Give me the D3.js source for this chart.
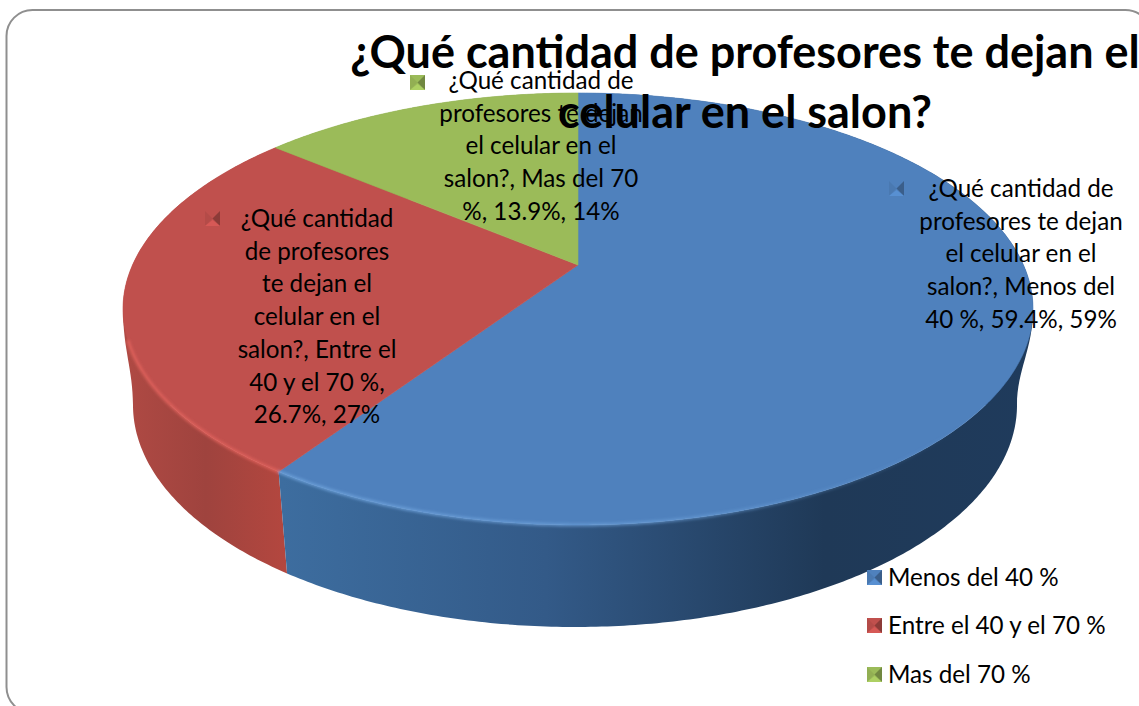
<!DOCTYPE html>
<html><head><meta charset="utf-8">
<script src="https://cdn.jsdelivr.net/npm/d3@7/dist/d3.min.js"></script>
<style>html,body{margin:0;padding:0;background:#fff;overflow:hidden}svg{display:block}text{font-family:Lato,"Open Sans",sans-serif;fill:#000}</style>
</head><body><svg id="c" width="1139" height="706"></svg>
<script>
const categories = ["Menos del 40 %", "Entre el 40 y el 70 %", "Mas del 70 %"];
const values = [59.4, 26.7, 13.9];
const colors = ["#4f81bd", "#c0504d", "#9bbb59"];
const rimColors = ["#6fa3dc", "#e2635d", "#b5d56f"];
const titleLines = ["¿Qué cantidad de profesores te dejan el", "celular en el salon?"];
const labelLines = [
  ["¿Qué cantidad de", "profesores te dejan", "el celular en el", "salon?, Menos del", "40 %, 59.4%, 59%"],
  ["¿Qué cantidad", "de profesores", "te dejan el", "celular en el", "salon?, Entre el", "40 y el 70 %,", "26.7%, 27%"],
  ["¿Qué cantidad de", "profesores te dejan", "el celular en el", "salon?, Mas del 70", "%, 13.9%, 14%"]
];

const svg = d3.select("#c");
const defs = svg.append("defs");

const top_ = {ax: 578, ay: 265, cx: 578, cy: 309, rx: 455, ry: 216};
const low_ = {ax: 586, ay: 367, cx: 575, cy: 405, rx: 442, ry: 222};
const aspect = 2.16;

function rim(e, a) {
  const dx = aspect * Math.sin(a), dy = -Math.cos(a);
  const ox = e.ax - e.cx, oy = e.ay - e.cy;
  const A = dx*dx/(e.rx*e.rx) + dy*dy/(e.ry*e.ry);
  const B = 2*(ox*dx/(e.rx*e.rx) + oy*dy/(e.ry*e.ry));
  const C = ox*ox/(e.rx*e.rx) + oy*oy/(e.ry*e.ry) - 1;
  const t = (-B + Math.sqrt(B*B - 4*A*C)) / (2*A);
  return [e.ax + t*dx, e.ay + t*dy];
}
function arcPts(e, a0, a1) {
  const n = Math.max(2, Math.ceil((a1 - a0) / 0.01));
  return d3.range(n + 1).map(i => rim(e, a0 + (a1 - a0) * i / n));
}
const line = d3.line();
const arcs = d3.pie().sort(null).value(d => d)(values);

const sideStops = [
  [[0, "#3d6d9f"], [0.35, "#335a88"], [0.72, "#1f3957"], [1, "#1f3b5c"]],
  [[0, "#b04a44"], [0.5, "#9f433e"], [1, "#b5473f"]],
  [[0, "#7d9a45"], [1, "#6f8a3c"]]
];
const xRange = [[282, 1035], [120, 292], [270, 580]];
sideStops.forEach((st, i) => {
  const g = defs.append("linearGradient").attr("id", "side" + i)
    .attr("gradientUnits", "userSpaceOnUse")
    .attr("x1", xRange[i][0]).attr("x2", xRange[i][1]).attr("y1", 0).attr("y2", 0);
  st.forEach(s => g.append("stop").attr("offset", s[0]).attr("stop-color", s[1]));
});
const fade = defs.append("linearGradient").attr("id", "rimFade")
  .attr("gradientUnits", "userSpaceOnUse").attr("x1", 282).attr("x2", 960).attr("y1", 0).attr("y2", 0);
fade.append("stop").attr("offset", 0).attr("stop-color", rimColors[0]);
fade.append("stop").attr("offset", 0.55).attr("stop-color", rimColors[0]).attr("stop-opacity", 0.75);
fade.append("stop").attr("offset", 1).attr("stop-color", rimColors[0]).attr("stop-opacity", 0);

const blur = defs.append("filter").attr("id", "soft").attr("x", "-5%").attr("y", "-5%").attr("width", "110%").attr("height", "110%");
blur.append("feGaussianBlur").attr("stdDeviation", 1.6);

const keyBevel = (sel, x, y, s, c) => {
  const dark = d3.color(c).darker(1.0), light = d3.color(c).brighter(0.3);
  sel.append("rect").attr("x", x).attr("y", y).attr("width", s).attr("height", s).attr("fill", c);
  sel.append("path").attr("d", `M${x} ${y}L${x + s/2} ${y + s/2}L${x} ${y + s}Z`).attr("fill", dark).attr("opacity", .2);
  sel.append("path").attr("d", `M${x + s} ${y}L${x + s/2} ${y + s/2}L${x + s} ${y + s}Z`).attr("fill", dark).attr("opacity", .9);
  sel.append("path").attr("d", `M${x} ${y + s}L${x + s/2} ${y + s*0.6}L${x + s} ${y + s}Z`).attr("fill", light);
};

// frame
svg.append("rect").attr("x", 6.5).attr("y", 10).attr("width", 1145).attr("height", 703).attr("rx", 26)
  .attr("fill", "#fff").attr("stroke", "#8f8f8f").attr("stroke-width", 2);

// silhouette hulls joining the outer extremes of the top face and the base
function hull(sign) {
  const a = [top_.cx + sign * top_.rx, top_.cy], b = [low_.cx + sign * low_.rx, low_.cy];
  const p = d3.path();
  p.moveTo(a[0], a[1]);
  p.bezierCurveTo(a[0], a[1] + 40, b[0], b[1] - 35, b[0], b[1]);
  p.lineTo(b[0] - sign * 40, b[1]);
  p.lineTo(a[0] - sign * 40, a[1]);
  p.closePath();
  return p.toString();
}

// sides
const sides = svg.append("g");
sides.append("path").attr("d", hull(-1)).attr("fill", "url(#side1)");
sides.append("path").attr("d", hull(1)).attr("fill", "url(#side0)");
[2, 1, 0].forEach(i => {
  const d = arcs[i];
  const pts = arcPts(top_, d.startAngle, d.endAngle).concat(arcPts(low_, d.startAngle, d.endAngle).reverse());
  sides.append("path").attr("d", line(pts) + "Z").attr("fill", `url(#side${i})`);
});

// top face
const face = svg.append("g");
arcs.forEach((d, i) => {
  const pts = [[top_.ax, top_.ay]].concat(arcPts(top_, d.startAngle, d.endAngle));
  face.append("path").attr("d", line(pts) + "Z").attr("fill", colors[i])
    .attr("stroke", colors[i]).attr("stroke-width", 0.6);
});
// front rim highlight
const rimG = svg.append("g").attr("filter", "url(#soft)");
arcs.forEach((d, i) => {
  if (i === 2) return;
  const a0 = Math.max(d.startAngle, Math.PI * 0.62);
  const a1 = Math.min(d.endAngle, Math.PI * 1.39);
  rimG.append("path").attr("d", line(arcPts(top_, a0, a1))).attr("fill", "none")
    .attr("stroke", i === 0 ? "url(#rimFade)" : rimColors[i]).attr("stroke-width", 2.6);
});

// data labels
const labelPos = [
  {x: 1021, y: 197, kx: 889, ky: 181},
  {x: 317, y: 227, kx: 205, ky: 211},
  {x: 541, y: 89, kx: 410, ky: 75}
];
const fs = 24.2, pitch = 32.7;
labelLines.forEach((ls, i) => {
  const p = labelPos[i];
  const g = svg.append("g");
  keyBevel(g, p.kx, p.ky, 15, colors[i]);
  g.selectAll("text").data(ls).join("text")
    .attr("x", p.x).attr("y", (_, j) => p.y + j * pitch)
    .attr("text-anchor", "middle").attr("font-size", fs).text(d => d);
});

// title
svg.selectAll("text.title").data(titleLines).join("text").attr("class", "title")
  .attr("x", 745).attr("y", (_, i) => 68 + i * 60)
  .attr("text-anchor", "middle").attr("font-size", 45).attr("font-weight", 700).text(d => d);

// legend
const legendY = [578, 626, 675];
categories.forEach((c, i) => {
  const g = svg.append("g");
  keyBevel(g, 867, legendY[i] - 8, 15, colors[i]);
  g.append("text").attr("x", 888).attr("y", legendY[i] + 8).attr("font-size", fs).text(c);
});
</script></body></html>
